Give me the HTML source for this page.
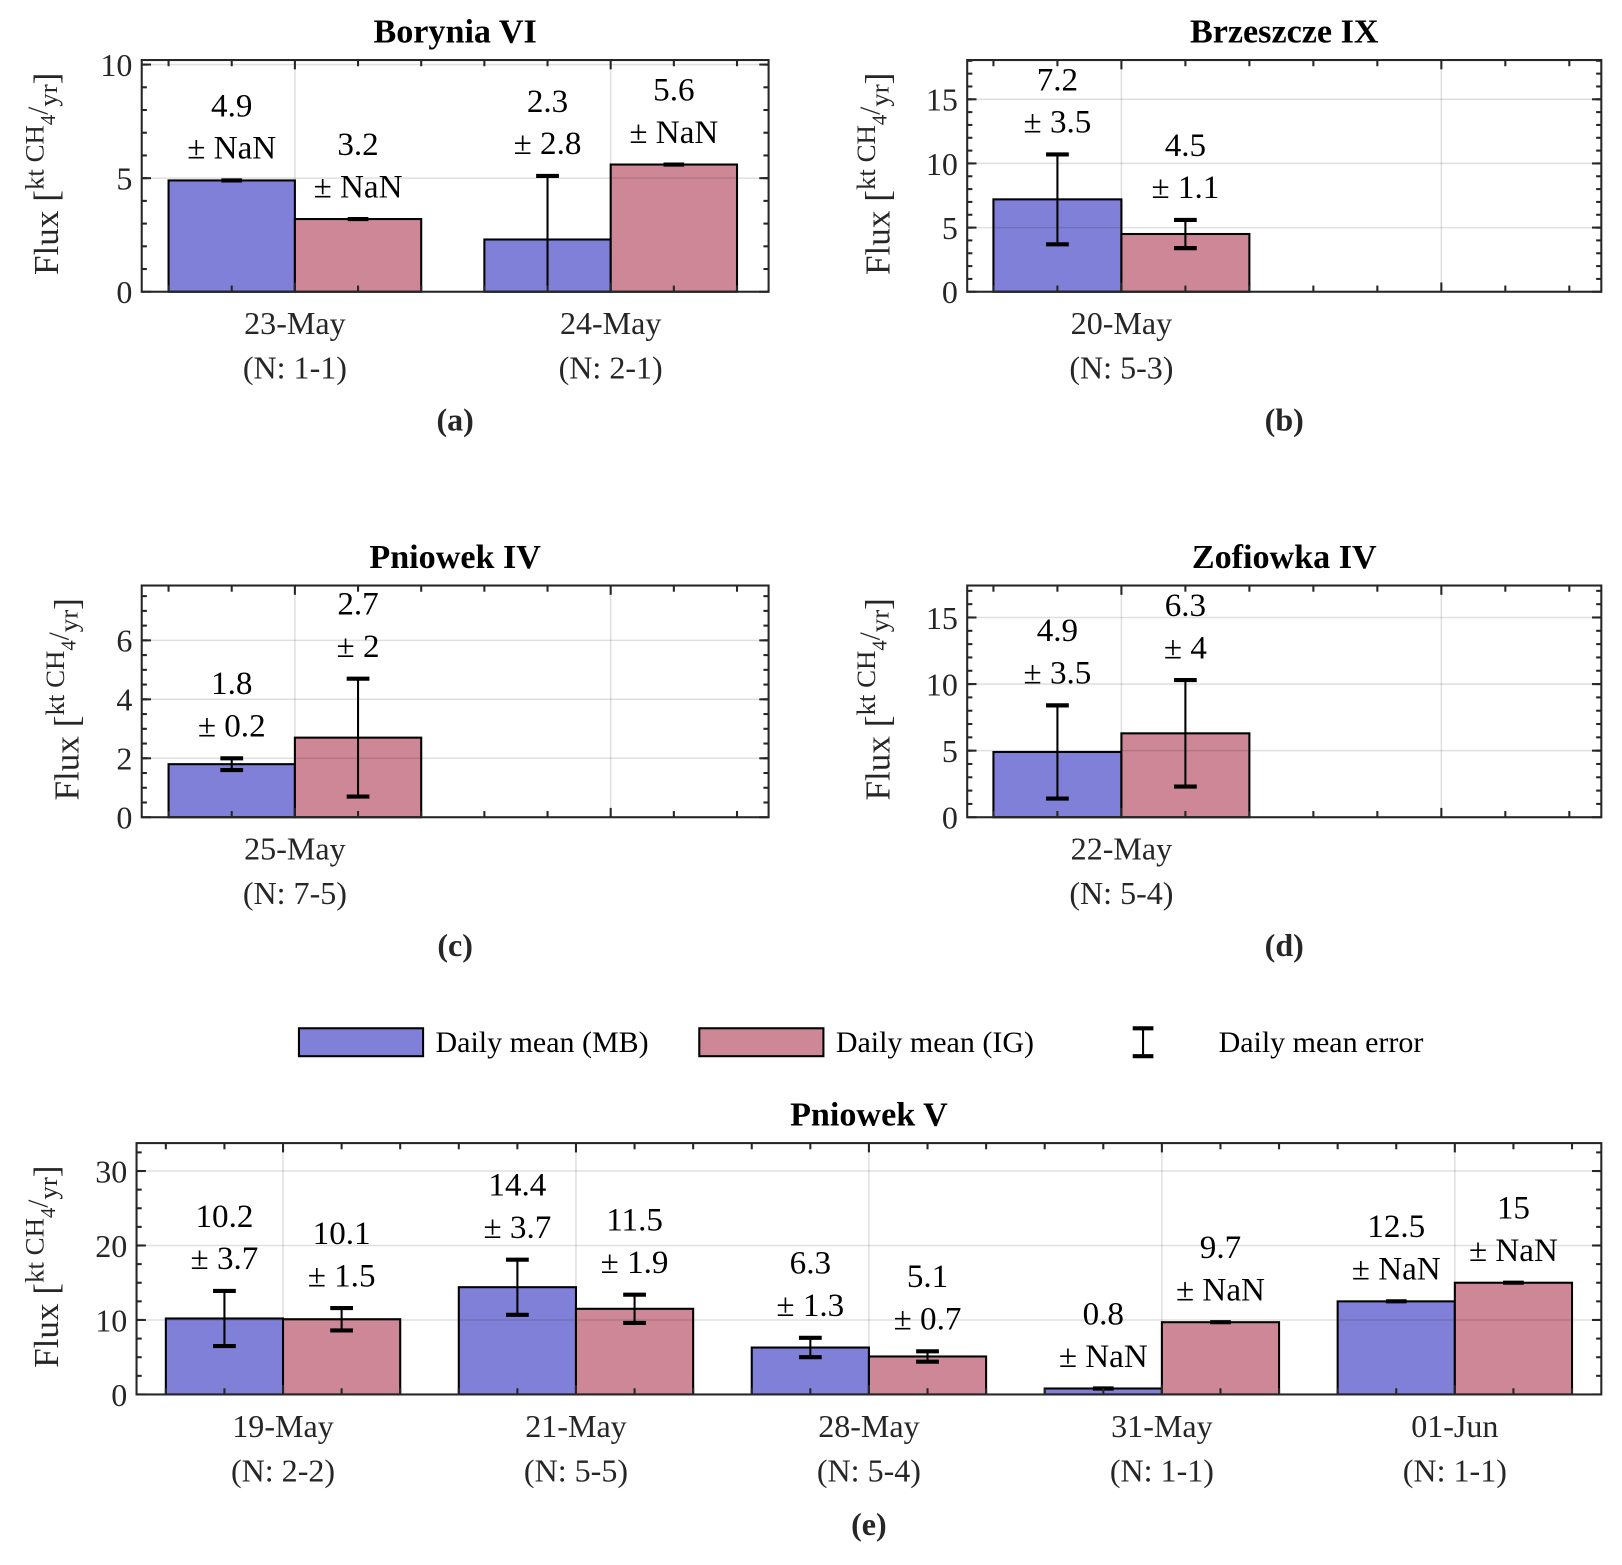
<!DOCTYPE html>
<html><head><meta charset="utf-8"><style>
html,body{margin:0;padding:0;background:#fff;}
svg, svg text, svg tspan{font-family:"Liberation Serif","Times New Roman",serif;}
</style></head><body>
<svg id="fig" width="1622" height="1560" viewBox="0 0 1568 1508" xmlns="http://www.w3.org/2000/svg" font-family="Liberation Serif, serif">
<rect x="0" y="0" width="1568" height="1508" fill="#fff"/>
<g id="legend">
  <g>
    <rect x="289" y="994" width="120" height="27" fill="#8080d9" stroke="#000" stroke-width="2"/>
    <text x="421" y="1017" font-size="29">Daily mean (MB)</text>
  </g>
  <g>
    <rect x="676" y="994" width="120" height="27" fill="#ce8797" stroke="#000" stroke-width="2"/>
    <text x="808" y="1017" font-size="29">Daily mean (IG)</text>
  </g>
  <g>
    <line x1="1105" y1="994" x2="1105" y2="1021" stroke="#000" stroke-width="2"/>
    <line x1="1095" y1="994" x2="1115" y2="994" stroke="#000" stroke-width="4"/>
    <line x1="1095" y1="1021" x2="1115" y2="1021" stroke="#000" stroke-width="4"/>
    <text x="1178" y="1017" font-size="29">Daily mean error</text>
  </g>
</g>
</svg>
<script>
// Panel (a) Borynia VI
const catsA = ['23-May','24-May'];
const nA = ['(N: 1-1)','(N: 2-1)'];
const mbA = [4.9, 2.3];
const mbErrA = [NaN, 2.8];
const igA = [3.2, 5.6];
const igErrA = [NaN, NaN];
const yTicksA = [0,5,10];
// Panel (b) Brzeszcze IX
const catsB = ['20-May'];
const nB = ['(N: 5-3)'];
const mbB = [7.2];
const mbErrB = [3.5];
const igB = [4.5];
const igErrB = [1.1];
const yTicksB = [0,5,10,15];
// Panel (c) Pniowek IV
const catsC = ['25-May'];
const nC = ['(N: 7-5)'];
const mbC = [1.8];
const mbErrC = [0.2];
const igC = [2.7];
const igErrC = [2];
const yTicksC = [0,2,4,6];
// Panel (d) Zofiowka IV
const catsD = ['22-May'];
const nD = ['(N: 5-4)'];
const mbD = [4.9];
const mbErrD = [3.5];
const igD = [6.3];
const igErrD = [4];
const yTicksD = [0,5,10,15];
// Panel (e) Pniowek V
const catsE = ['19-May','21-May','28-May','31-May','01-Jun'];
const nE = ['(N: 2-2)','(N: 5-5)','(N: 5-4)','(N: 1-1)','(N: 1-1)'];
const mbE = [10.2, 14.4, 6.3, 0.8, 12.5];
const mbErrE = [3.7, 3.7, 1.3, NaN, NaN];
const igE = [10.1, 11.5, 5.1, 9.7, 15];
const igErrE = [1.5, 1.9, 0.7, NaN, NaN];
const yTicksE = [0,10,20,30];

const NS='http://www.w3.org/2000/svg';
const svg=document.getElementById('fig');
function mk(tag,attrs,parent){const e=document.createElementNS(NS,tag);for(const k in attrs)e.setAttribute(k,attrs[k]);(parent||svg).appendChild(e);return e;}
function fmt(v){return isNaN(v)?'NaN':String(v);}
const FF='Liberation Serif, serif';

function panel(o){
  const g=mk('g',{'font-family':FF});
  
  
  const L=o.L,R=o.R,T=o.T,B=o.B;
  const sx=x=>L+(x-o.x0)/(o.x1-o.x0)*(R-L);
  const sy=y=>B-(y/o.ymax)*(B-T);
  const grid=mk('g',{},g);
  
  
  const bw=0.4;
  const series=[[o.mb,o.mbe,'#8080d9','mb'],[o.ig,o.ige,'#ce8797','ig']];
  series.forEach((s,si)=>{
    s[0].forEach((v,i)=>{
      const c=i+1;
      const xa=si===0?c-bw:c, xb=si===0?c:c+bw;
      const r=mk('rect',{x:sx(xa),y:sy(v),width:sx(xb)-sx(xa),height:sy(0)-sy(v),fill:s[2],stroke:'#000','stroke-width':2},g);
      
      
    });
  });
  o.yt.forEach(t=>{ if(t>0){mk('line',{x1:L,x2:R,y1:sy(t),y2:sy(t),stroke:'#000','stroke-opacity':0.12,'stroke-width':1.5},grid);}});
  for(let i=1;i<=o.slots;i++){mk('line',{x1:sx(i),x2:sx(i),y1:T,y2:B,stroke:'#000','stroke-opacity':0.12,'stroke-width':1.5},grid);}
  g.appendChild(grid);
  series.forEach((s,si)=>{
    s[0].forEach((v,i)=>{
      const c=i+1, xc=sx(si===0?c-bw/2:c+bw/2);
      const e=s[1][i];
      const eg=mk('g',{},g);
      
      
      let top=v;
      if(isNaN(e)){
        mk('line',{x1:xc-10,x2:xc+10,y1:sy(v),y2:sy(v),stroke:'#000','stroke-width':4},eg);
      } else {
        top=v+e;
        mk('line',{x1:xc,x2:xc,y1:sy(v+e),y2:sy(Math.max(v-e,0)),stroke:'#000','stroke-width':2},eg);
        mk('line',{x1:xc-11,x2:xc+11,y1:sy(v+e),y2:sy(v+e),stroke:'#000','stroke-width':4},eg);
        if(v-e>=0) mk('line',{x1:xc-11,x2:xc+11,y1:sy(v-e),y2:sy(v-e),stroke:'#000','stroke-width':4},eg);
      }
      const yb=sy(top)-21;
      const t1=mk('text',{x:xc,y:yb-41,'font-size':32,'text-anchor':'middle',fill:'#000','font-family':FF},g);
      t1.textContent=fmt(v);
      
      
      const t2=mk('text',{x:xc,y:yb,'font-size':32,'text-anchor':'middle',fill:'#000','font-family':FF},g);
      t2.textContent='\u00b1 '+fmt(e);
      
      
    });
  });
  const ax=mk('rect',{x:L,y:T,width:R-L,height:B-T,fill:'none',stroke:'#262626','stroke-width':2},g);
  
  
  const tk=mk('g',{stroke:'#262626','stroke-width':2},g);
  
  
  o.yt.forEach(t=>{
    mk('line',{x1:L,x2:L+9,y1:sy(t),y2:sy(t)},tk);
    mk('line',{x1:R,x2:R-9,y1:sy(t),y2:sy(t)},tk);
    const tl=mk('text',{x:L-9,y:sy(t)+11,'font-size':31,'text-anchor':'end',fill:'#262626',stroke:'none','font-family':FF},g);
    tl.textContent=String(t);
    
    
  });
  for(let m=o.minor;m<o.ymax;m+=o.minor){
    mk('line',{x1:L,x2:L+5,y1:sy(m),y2:sy(m)},tk);
    mk('line',{x1:R,x2:R-5,y1:sy(m),y2:sy(m)},tk);
  }
  for(let i=1;i<=o.slots;i++){
    for(let k=-2;k<=2;k++){
      const x=sx(i+k*0.2);
      if(x<=L+1||x>=R-1)continue;
      const len=k===0?9:6;
      mk('line',{x1:x,x2:x,y1:B,y2:B-len},tk);
      mk('line',{x1:x,x2:x,y1:T,y2:T+len},tk);
    }
  }
  o.cats.forEach((c,i)=>{
    const t=mk('text',{x:sx(i+1),y:B+41,'font-size':31,'text-anchor':'middle',fill:'#262626','font-family':FF},g);
    t.textContent=c;
    
    
    const n=mk('text',{x:sx(i+1),y:B+84,'font-size':31,'text-anchor':'middle',fill:'#262626','font-family':FF},g);
    n.textContent=o.ns[i];
    
    
  });
  const cx=(L+R)/2;
  const ti=mk('text',{x:cx,y:T-17,'font-size':33,'font-weight':'bold','text-anchor':'middle',fill:'#000','font-family':FF},g);
  ti.textContent=o.title;
  
  
  const pl=mk('text',{x:cx,y:o.lblY,'font-size':31,'font-weight':'bold','text-anchor':'middle',fill:'#262626','font-family':FF},g);
  pl.textContent=o.letter;
  
  
  const yl=mk('text',{transform:'translate('+(o.ylx)+','+((T+B)/2-2)+') rotate(-90)','font-size':34,'text-anchor':'middle',fill:'#262626','font-family':FF},g);
  
  
  yl.innerHTML='Flux [<tspan font-size="26" dy="-14">kt CH</tspan><tspan font-size="20" dy="11">4</tspan><tspan font-size="28" dy="-7">/</tspan><tspan font-size="26" dy="9">yr</tspan><tspan font-size="34" dy="1">]</tspan>';
}

panel({name:'panel-a-borynia-vi',title:'Borynia VI',letter:'(a)',L:137,R:743,T:58,B:282,x0:0.515,x1:2.5,slots:2,ymax:10.2,yt:yTicksA,minor:1,cats:catsA,ns:nA,mb:mbA,mbe:mbErrA,ig:igA,ige:igErrA,lblY:416,ylx:56});
panel({name:'panel-b-brzeszcze-ix',title:'Brzeszcze IX',letter:'(b)',L:935,R:1548,T:58,B:282,x0:0.518,x1:2.5,slots:2,ymax:18.06,yt:yTicksB,minor:1,cats:catsB,ns:nB,mb:mbB,mbe:mbErrB,ig:igB,ige:igErrB,lblY:416,ylx:860});
panel({name:'panel-c-pniowek-iv',title:'Pniowek IV',letter:'(c)',L:137,R:743,T:566,B:790,x0:0.515,x1:2.5,slots:2,ymax:7.86,yt:yTicksC,minor:0.5,cats:catsC,ns:nC,mb:mbC,mbe:mbErrC,ig:igC,ige:igErrC,lblY:924,ylx:76});
panel({name:'panel-d-zofiowka-iv',title:'Zofiowka IV',letter:'(d)',L:935,R:1548,T:566,B:790,x0:0.518,x1:2.5,slots:2,ymax:17.4,yt:yTicksD,minor:1,cats:catsD,ns:nD,mb:mbD,mbe:mbErrD,ig:igD,ige:igErrD,lblY:924,ylx:860});
panel({name:'panel-e-pniowek-v',title:'Pniowek V',letter:'(e)',L:132,R:1548,T:1105,B:1348,x0:0.5,x1:5.5,slots:5,ymax:33.75,yt:yTicksE,minor:2.5,cats:catsE,ns:nE,mb:mbE,mbe:mbErrE,ig:igE,ige:igErrE,lblY:1484,ylx:56});
</script>
</body></html>
